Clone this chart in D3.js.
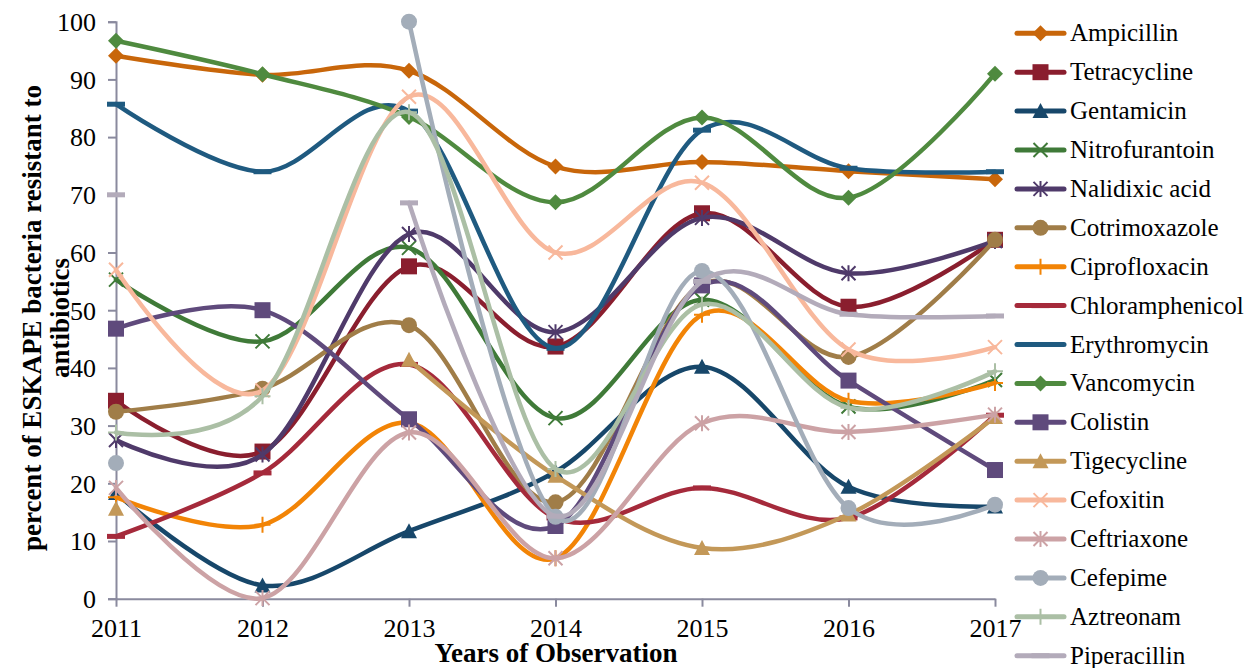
<!DOCTYPE html>
<html>
<head>
<meta charset="utf-8">
<script src="https://cdn.jsdelivr.net/npm/d3@7"></script>
<style>
  body { margin: 0; background: #fff; }
  text { font-family: "Liberation Serif", "Times New Roman", serif; fill: #000; }
</style>
</head>
<body>
<svg id="chart" width="1260" height="668"></svg>
<script>
// years on the x axis
var years = [2011, 2012, 2013, 2014, 2015, 2016, 2017];
var yTicks = [0, 10, 20, 30, 40, 50, 60, 70, 80, 90, 100];

// percent resistant, one array per antibiotic (null = no data)
var ampicillin      = [94.1, 90.8, 91.5, 74.9, 75.7, 74.1, 72.7];
var tetracycline    = [34.3, 25.5, 57.6, 43.7, 66.8, 50.6, 62.2];
var gentamicin      = [18.3, 2.3, 11.7, 22.0, 40.2, 19.4, 16.0];
var nitrofurantoin  = [55.3, 44.6, 60.8, 31.3, 51.8, 33.3, 37.9];
var nalidixicAcid   = [27.5, 25.0, 63.2, 46.2, 66.0, 56.4, 62.0];
var cotrimoxazole   = [32.4, 36.4, 47.4, 16.7, 54.5, 41.9, 62.2];
var ciprofloxacin   = [17.6, 12.8, 30.5, 7.0, 49.2, 34.3, 37.4];
var chloramphenicol = [10.8, 21.8, 40.6, 14.0, 19.2, 14.0, 31.8];
var erythromycin    = [85.7, 74.0, 84.5, 43.4, 81.2, 74.6, 74.0];
var vancomycin      = [96.7, 90.9, 83.5, 68.7, 83.4, 69.5, 91.0];
var colistin        = [46.8, 50.0, 31.1, 12.6, 54.3, 37.8, 22.3];
var tigecycline     = [15.6, null, 41.4, 21.3, 8.8, 14.6, 31.5];
var cefoxitin       = [57.0, 36.1, 87.0, 60.0, 72.1, 43.2, 43.6];
var ceftriaxone     = [19.2, 0.1, 28.8, 7.0, 30.4, 28.9, 31.9];
var cefepime        = [23.5, null, 100, 14.2, 56.8, 15.7, 16.3];
var aztreonam       = [28.8, 35.1, 84.3, 22.5, 51.0, 33.1, 39.4];
var piperacillin    = [70.0, null, 68.6, 14.3, 55.0, 49.3, 49.0];

var names = ["Ampicillin", "Tetracycline", "Gentamicin", "Nitrofurantoin", "Nalidixic acid",
  "Cotrimoxazole", "Ciprofloxacin", "Chloramphenicol", "Erythromycin", "Vancomycin",
  "Colistin", "Tigecycline", "Cefoxitin", "Ceftriaxone", "Cefepime", "Aztreonam", "Piperacillin"];
var values = [ampicillin, tetracycline, gentamicin, nitrofurantoin, nalidixicAcid,
  cotrimoxazole, ciprofloxacin, chloramphenicol, erythromycin, vancomycin,
  colistin, tigecycline, cefoxitin, ceftriaxone, cefepime, aztreonam, piperacillin];

// styles
var colors = ["#c8660a", "#8a1e2e", "#17476a", "#3f7a38", "#4f3a6a", "#a07d48", "#f28406",
  "#a52a3b", "#1f5a80", "#4f8a3f", "#5f4a7c", "#c39858", "#f8b89c", "#cca2a5",
  "#a3adb9", "#abbfa5", "#b3abba"];
var markers = ["diamond", "square", "triangle", "x", "asterisk", "circle", "plus",
  "dash", "dash", "diamond", "square", "triangle", "x", "asterisk", "circle", "plus", "dash"];

var serif = "'Liberation Serif', 'Times New Roman', serif";
var svg = d3.select("#chart");
var x = d3.scalePoint().domain(years).range([116, 995]);
var y = d3.scaleLinear().domain([0, 100]).range([598.7, 21.7]);
var axisColor = "#8a8a9e";

// axes
var yAxis = svg.append("g").attr("transform", "translate(116,0)")
  .call(d3.axisLeft(y).tickValues(yTicks).tickSize(8).tickPadding(12));
var xAxis = svg.append("g").attr("transform", "translate(0,598.7)")
  .call(d3.axisBottom(x).tickSize(8).tickPadding(12).tickSizeOuter(0));
[yAxis, xAxis].forEach(function (g) {
  g.attr("font-family", serif).attr("font-size", 26);
  g.select(".domain").attr("stroke", axisColor).attr("stroke-width", 2);
  g.selectAll(".tick line").attr("stroke", axisColor).attr("stroke-width", 2);
  g.selectAll(".tick text").attr("font-family", serif).style("font-size", "26px").attr("fill", "#000");
});
yAxis.selectAll(".tick text").attr("dy", "0.34em");
xAxis.selectAll(".tick text").attr("dy", "0.72em");

// titles
svg.append("text").attr("x", 556).attr("y", 662).attr("text-anchor", "middle")
  .style("font-size", "27px").style("font-weight", "bold").text("Years of Observation");
var yt = svg.append("text").attr("transform", "translate(0,318) rotate(-90)")
  .attr("text-anchor", "middle").style("font-size", "27px").style("font-weight", "bold");
yt.append("tspan").attr("x", 0).attr("y", 41).text("percent of ESKAPE bacteria resistant to");
yt.append("tspan").attr("x", 0).attr("y", 69).text("antibiotics");

function drawMarker(g, type, color, cx, cy) {
  var s = 8;
  if (type === "diamond") {
    g.append("path").attr("d", "M" + cx + "," + (cy - s) + "L" + (cx + s) + "," + cy + "L" + cx + "," + (cy + s) + "L" + (cx - s) + "," + cy + "Z").attr("fill", color);
  } else if (type === "square") {
    g.append("rect").attr("x", cx - 8).attr("y", cy - 8).attr("width", 16).attr("height", 16).attr("fill", color);
  } else if (type === "triangle") {
    g.append("path").attr("d", "M" + cx + "," + (cy - 8) + "L" + (cx + 8) + "," + (cy + 7) + "L" + (cx - 8) + "," + (cy + 7) + "Z").attr("fill", color);
  } else if (type === "circle") {
    g.append("circle").attr("cx", cx).attr("cy", cy).attr("r", 8).attr("fill", color);
  } else if (type === "x" || type === "asterisk") {
    var d = "M" + (cx - 7) + "," + (cy - 7) + "L" + (cx + 7) + "," + (cy + 7) + "M" + (cx + 7) + "," + (cy - 7) + "L" + (cx - 7) + "," + (cy + 7);
    if (type === "asterisk") d += "M" + cx + "," + (cy - 8) + "L" + cx + "," + (cy + 8);
    g.append("path").attr("d", d).attr("stroke", color).attr("stroke-width", 2).attr("fill", "none");
  } else if (type === "plus") {
    g.append("path").attr("d", "M" + cx + "," + (cy - 8) + "L" + cx + "," + (cy + 8) + "M" + (cx - 8) + "," + cy + "L" + (cx + 8) + "," + cy)
      .attr("stroke", color).attr("stroke-width", 2).attr("fill", "none");
  } else if (type === "dash") {
    g.append("rect").attr("x", cx - 9).attr("y", cy - 2.5).attr("width", 18).attr("height", 5).attr("fill", color);
  }
}

var line = d3.line()
  .defined(function (d) { return d.v !== null; })
  .x(function (d) { return x(d.year); })
  .y(function (d) { return y(d.v); })
  .curve(d3.curveCardinal.tension(0));

values.forEach(function (vals, i) {
  var pts = years.map(function (yr, j) { return { year: yr, v: vals[j] }; });
  var g = svg.append("g");
  g.append("path").datum(pts).attr("d", line)
    .attr("fill", "none").attr("stroke", colors[i]).attr("stroke-width", 4.5)
    .attr("stroke-linecap", "round").attr("stroke-linejoin", "round");
  pts.forEach(function (p) {
    if (p.v !== null) drawMarker(g, markers[i], colors[i], x(p.year), y(p.v));
  });
});

// legend
var legend = svg.append("g");
names.forEach(function (n, i) {
  var cy = 33.3 + i * 38.9;
  var lg = legend.append("g");
  lg.append("line").attr("x1", 1017).attr("x2", 1064).attr("y1", cy).attr("y2", cy)
    .attr("stroke", colors[i]).attr("stroke-width", 5).attr("stroke-linecap", "round");
  drawMarker(lg, markers[i], colors[i], 1040.5, cy);
  lg.append("text").attr("x", 1070).attr("y", cy + 8).attr("font-family", serif)
    .style("font-size", "25px").text(n);
});
</script>
</body>
</html>
